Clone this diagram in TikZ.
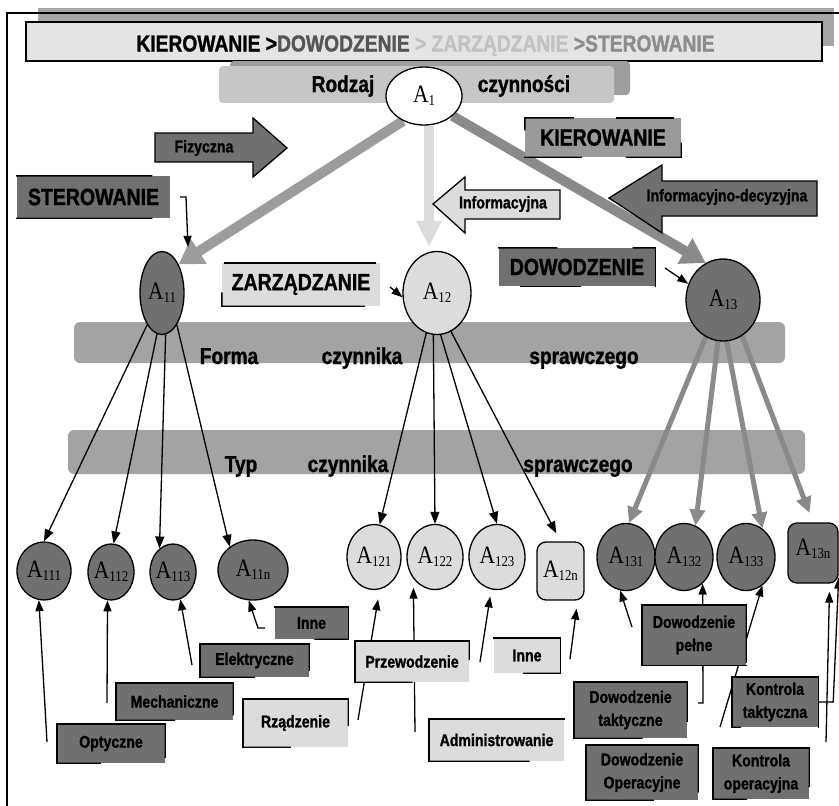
\documentclass[tikz,border=0pt]{standalone}
\usepackage{fontspec}
\setmainfont{Liberation Sans}
\newfontfamily\nsans[FakeStretch=0.83,FakeBold=1.2]{Liberation Sans}
\newfontfamily\tnr[FakeStretch=0.86]{Liberation Serif}
\usetikzlibrary{arrows.meta,calc,shapes.geometric}

\definecolor{dk}{HTML}{707070}
\definecolor{lt}{HTML}{DCDCDC}
\definecolor{bandc}{HTML}{A3A3A3}
\definecolor{kierc}{HTML}{9A9A9A}
\definecolor{titlec}{HTML}{E4E4E4}
\definecolor{titlesh}{HTML}{A6A6A6}
\definecolor{rodzc}{HTML}{C6C6C6}
\definecolor{rodzsh}{HTML}{9E9E9E}
\definecolor{armA}{HTML}{9C9C9C}
\definecolor{armC}{HTML}{8A8A8A}
\definecolor{tdow}{HTML}{555555}
\definecolor{tzar}{HTML}{C2C2C2}
\definecolor{tster}{HTML}{8C8C8C}

\pgfdeclarelayer{bands}
\pgfdeclarelayer{lines}
\pgfsetlayers{bands,lines,main}

% node label: A with a lowered index
\newcommand\Alab[1]{A\raisebox{-3pt}{\fontsize{15}{15}\selectfont #1}}
% part of a box edge, from fraction #4 to #5 between two anchors
\newcommand\bxseg[5]{\draw[frm] ($(#1.#2)!#4!(#1.#3)$) -- ($(#1.#2)!#5!(#1.#3)$);}
% open frame: top and left edges, part of bottom (#2) and right (#3)
\newcommand\bxframeL[3]{%
  \bxseg{#1}{north west}{north east}{0}{1}%
  \bxseg{#1}{north west}{south west}{0}{1}%
  \bxseg{#1}{south west}{south east}{0}{#2}%
  \bxseg{#1}{north east}{south east}{0}{#3}}
% open frame: top and right edges, part of bottom from the right (#2)
\newcommand\bxframeR[2]{%
  \bxseg{#1}{north west}{north east}{0}{1}%
  \bxseg{#1}{north east}{south east}{0}{1}%
  \bxseg{#1}{south east}{south west}{0}{#2}}

\begin{document}
\begin{tikzpicture}[x=1pt,y=-1pt,
  frm/.style={line width=1.4pt,line cap=rect},
  bigtxt/.style={font=\nsans\fontsize{23.5}{26}\selectfont\bfseries},
  bandtxt/.style={font=\nsans\fontsize{23}{26}\selectfont\bfseries,anchor=base,inner sep=0pt},
  smtxt/.style={font=\nsans\fontsize{17}{23}\selectfont\bfseries,align=center},
  lblbox/.style={rectangle,inner sep=0pt,smtxt},
  bigbox/.style={rectangle,inner sep=0pt,bigtxt},
  anode/.style={ellipse,draw,line width=1.3pt,inner sep=-6pt,font=\tnr\fontsize{25}{25}\selectfont},
  rnode/.style={rectangle,rounded corners=9pt,draw,line width=1.3pt,inner sep=-6pt,font=\tnr\fontsize{25}{25}\selectfont},
  kid/.style={line width=1.3pt,-{Triangle[length=12pt,width=9pt]}},
  lblarr/.style={line width=1.3pt,-{Triangle[length=11pt,width=8pt]}},
  grarr/.style={line width=5pt,draw=armC,-{Triangle[length=16pt,width=15pt]}},
  bigarr/.style={line width=10pt,-{Triangle[length=24pt,width=28pt]}},
  blockarr/.style={draw,line width=1.3pt,line join=miter}]
\useasboundingbox (0,0) rectangle (839,806);

\begin{pgfonlayer}{bands}
  % heading bar, its shadow and the page frame
  \fill[titlesh] (38,8) rectangle (834,46);
  \draw[line width=2pt] (7,806) -- (7,13) -- (839,13);
  \node[draw,line width=1.5pt,fill=titlec,minimum width=796pt,minimum height=39pt,inner sep=0pt] (ttlbox) at (424,41.5) {};
  \node[font=\nsans\fontsize{23.2}{26}\selectfont\bfseries,anchor=base,inner sep=0pt] (ttl) at (425.5,51.5)
    {KIEROWANIE >{\color{tdow}DOWODZENIE}{\color{tzar}\ >\ ZARZĄDZANIE\ }{\color{tster}>STEROWANIE}};
  % level bands
  \fill[rodzsh,rounded corners=4pt] (230,61) rectangle (630,95);
  \fill[rodzc,rounded corners=4pt] (219,66) rectangle (614,103);
  \node[bandtxt] (rodzT) at (343,92) {Rodzaj};
  \node[bandtxt] (czynT) at (524,92) {czynności};
  \fill[bandc,rounded corners=6pt] (74,322) rectangle (785,363);
  \node[bandtxt] (formaT) at (229,364) {Forma};
  \node[bandtxt] (formaC) at (362,364) {czynnika};
  \node[bandtxt] (formaS) at (584,364) {sprawczego};
  \fill[bandc,rounded corners=6pt] (68,430) rectangle (805,474);
  \node[bandtxt] (typT) at (241,472) {Typ};
  \node[bandtxt] (typC) at (348,472) {czynnika};
  \node[bandtxt] (typS) at (578,472) {sprawczego};
\end{pgfonlayer}

% activity nodes
\node[anode,fill=white,minimum width=76pt,minimum height=58pt] (A1) at (424,96) {\Alab{1}};
\node[anode,fill=dk,minimum width=44pt,minimum height=83pt] (A11) at (162,293) {\Alab{11}};
\node[anode,fill=lt,minimum width=68pt,minimum height=83pt] (A12) at (437,293) {\Alab{12}};
\node[anode,fill=dk,minimum width=74pt,minimum height=82pt] (A13) at (723,300) {\Alab{13}};

\node[anode,fill=dk,minimum width=54pt,minimum height=58pt] (A111) at (44,571) {\Alab{111}};
\node[anode,fill=dk,minimum width=46pt,minimum height=56pt] (A112) at (111,572) {\Alab{112}};
\node[anode,fill=dk,minimum width=46pt,minimum height=56pt] (A113) at (173,572) {\Alab{113}};
\node[anode,fill=dk,minimum width=70pt,minimum height=60pt] (A11n) at (253,570) {\Alab{11n}};

\node[anode,fill=lt,minimum width=54pt,minimum height=65pt] (A121) at (374,557) {\Alab{121}};
\node[anode,fill=lt,minimum width=56pt,minimum height=65pt] (A122) at (435,557) {\Alab{122}};
\node[anode,fill=lt,minimum width=56pt,minimum height=65pt] (A123) at (497,557) {\Alab{123}};
\node[rnode,fill=lt,minimum width=47pt,minimum height=58pt] (A12n) at (560.5,571) {\Alab{12n}};

\node[anode,fill=dk,minimum width=58pt,minimum height=67pt] (A131) at (626,557) {\Alab{131}};
\node[anode,fill=dk,minimum width=58pt,minimum height=67pt] (A132) at (684,557) {\Alab{132}};
\node[anode,fill=dk,minimum width=58pt,minimum height=67pt] (A133) at (746,557) {\Alab{133}};
\node[rnode,fill=dk,minimum width=50pt,minimum height=60pt] (A13n) at (813,553) {\raisebox{12pt}{\Alab{13n}}};

% free ends of the label connectors
\coordinate (sterA) at (180,197);
\coordinate (zarA) at (390,287);
\coordinate (dowA) at (665,268);
\coordinate (optA) at (47,742);
\coordinate (mechA) at (107,703);
\coordinate (elekA) at (192,665);
\coordinate (inneLA) at (265,628);
\coordinate (rzadA) at (358,720);
\coordinate (admA) at (415,732);
\coordinate (przA) at (480,662);
\coordinate (inneMA) at (570,659);
\coordinate (dpA) at (632,627);
\coordinate (dtA) at (698,703);
\coordinate (doA) at (720,727);
\coordinate (koA) at (826,742);

\begin{pgfonlayer}{lines}
  % kinds of activity
  \draw[bigarr,draw=armA] (A1.-130) -- (A11.60);
  \draw[line width=10pt,draw=lt,-{Triangle[length=26pt,width=24pt]},shorten >=4pt] ($(A1.south)+(5,0)$) -- ($(A1.south |- A12.north)+(5,0)$);
  \draw[bigarr,draw=armC] (A1.-35) -- (A13.115);
  % forms of the acting factor
  \draw[kid] (A11.-115) -- (A111.north);
  \draw[kid] (A11.-97) -- (A112.85);
  \draw[kid] (A11.-85) -- (A113.120);
  \draw[kid] (A11.-65) -- (A11n.135);
  \draw[kid] (A12.-105) -- (A121.80);
  \draw[kid] (A12.-95) -- (A122.north);
  \draw[kid] (A12.-85) -- (A123.north);
  \draw[kid,shorten >=9pt] (A12.-70) -- (A12n.north);
  \draw[grarr] (A13.-115) -- (A131.85);
  \draw[grarr] (A13.-97) -- (A132.70);
  \draw[grarr] (A13.-85) -- (A133.60);
  \draw[grarr,shorten >=10pt] (A13.-62) -- (A13n.north);
  % label connectors
  \draw[lblarr] (sterA) -- ++(6,0) -- ($(A11.north)+(26,-4)$);
  \draw[lblarr] (zarA) -- (A12.187);
  \draw[lblarr] (dowA) -- (A13.155);
  \draw[lblarr] (optA) -- (A111.-100);
  \draw[lblarr] (mechA) -- (A112.-97);
  \draw[lblarr] (elekA) -- (A113.-75);
  \draw[lblarr] (inneLA) -- ++(-7,0) -- (A11n.-98);
  \draw[lblarr,shorten >=10pt] (rzadA) -- (A121.-80);
  \draw[lblarr,shorten >=9pt] (admA) -- (A122.-135);
  \draw[lblarr,shorten >=7pt] (przA) -- (A123.-100);
  \draw[lblarr,shorten >=8pt] (inneMA) -- ($(A12n.south east)+(-7,0)$);
  \draw[lblarr] (dpA) -- (A131.-100);
  \draw[lblarr] (dtA) -- ++(5,0) -- (A132.-55);
  \draw[lblarr] (doA) -- (A133.-60);
  \draw[lblarr,shorten >=8pt] (koA) -- ($(A13n.south east)+(-9,0)$);
\end{pgfonlayer}

% block arrows naming the kinds of activity
\draw[blockarr,fill=dk] (155,133) -- (253,133) -- (253,118) -- (287,148) -- (253,177) -- (253,162) -- (155,162) -- cycle;
\node[smtxt] (fizT) at (204,148) {Fizyczna};
\draw[blockarr,fill=lt] (560,190) -- (465,190) -- (465,177) -- (433,204) -- (465,233) -- (465,219) -- (560,219) -- cycle;
\node[smtxt] (infT) at (503,204) {Informacyjna};
\draw[blockarr,fill=dk] (817,181) -- (662,181) -- (662,165) -- (609,198) -- (662,233) -- (662,216) -- (817,216) -- cycle;
\node[smtxt] (indT) at (727,197) {Informacyjno-decyzyjna};

% large labels
\node[bigbox,fill=kierc,minimum width=156pt,minimum height=39pt] (kierb) at (603,137.5) {KIEROWANIE};
\bxseg{kierb}{north west}{north east}{0}{0.31}
\bxseg{kierb}{north west}{north east}{0.59}{0.95}
\bxseg{kierb}{north west}{south west}{0}{0.3}
\bxseg{kierb}{south east}{north east}{0}{0.35}
\bxseg{kierb}{south west}{south east}{0}{0.36}
\bxseg{kierb}{south west}{south east}{0.65}{1}
\node[bigbox,fill=dk,minimum width=153pt,minimum height=42pt] (sterb) at (93.5,197) {STEROWANIE};
\bxseg{sterb}{north west}{north east}{0}{0.88}
\bxseg{sterb}{south west}{south east}{0}{0.88}
\node[bigbox,fill=lt,minimum width=158pt,minimum height=43pt] (zarb) at (301,284.5) {ZARZĄDZANIE};
\bxseg{zarb}{north west}{north east}{0.02}{0.97}
\bxseg{zarb}{south west}{north west}{0}{0.3}
\bxseg{zarb}{south west}{south east}{0}{0.9}
\node[bigbox,fill=dk,minimum width=156pt,minimum height=38pt] (dowb) at (577,267) {DOWODZENIE};
\bxseg{dowb}{north west}{north east}{0}{0.37}
\bxseg{dowb}{north west}{north east}{0.86}{1}
\bxseg{dowb}{north east}{south east}{0}{1}
\bxseg{dowb}{south west}{south east}{0.14}{0.52}

% small labels
\node[lblbox,fill=dk,minimum width=108pt,minimum height=39pt] (optb) at (111,743.5) {Optyczne};
\bxframeL{optb}{0.4}{0.85}
\node[lblbox,fill=dk,minimum width=117pt,minimum height=37pt] (mechb) at (174.5,701.5) {Mechaniczne};
\bxframeL{mechb}{0.5}{0.85}
\node[lblbox,fill=dk,minimum width=109pt,minimum height=33pt] (elekb) at (254.5,660.5) {Elektryczne};
\bxframeL{elekb}{0.5}{0.8}
\node[lblbox,fill=dk,minimum width=73pt,minimum height=32pt] (inneLb) at (311.5,623) {Inne};
\bxframeR{inneLb}{0.45}
\node[lblbox,fill=lt,minimum width=105pt,minimum height=48pt] (rzadb) at (295.5,723) {Rządzenie};
\bxframeL{rzadb}{0.45}{0.55}
\node[lblbox,fill=lt,minimum width=114pt,minimum height=41pt] (przb) at (412,661.5) {Przewodzenie};
\bxframeL{przb}{0.5}{0.45}
\node[lblbox,fill=lt,minimum width=66pt,minimum height=35pt] (inneMb) at (527,655.5) {Inne};
\bxframeR{inneMb}{0.55}
\node[lblbox,fill=lt,minimum width=135pt,minimum height=42pt] (admb) at (496.5,740) {Administrowanie};
\bxframeL{admb}{0.74}{0}
\node[lblbox,fill=dk,minimum width=104pt,minimum height=60pt] (dpb) at (694,635) {Dowodzenie\\pełne};
\bxframeL{dpb}{1}{0.95}
\node[lblbox,fill=dk,minimum width=113pt,minimum height=56pt] (dtb) at (630.5,710) {Dowodzenie\\taktyczne};
\bxframeL{dtb}{0.6}{0.7}
\node[lblbox,fill=dk,minimum width=112pt,minimum height=55pt] (dob) at (642,772.5) {Dowodzenie\\Operacyjne};
\bxframeL{dob}{0.6}{0.85}
\node[lblbox,fill=dk,minimum width=86pt,minimum height=50pt] (ktb) at (775,702) {Kontrola\\taktyczna};
\bxframeL{ktb}{0.1}{1}
\node[lblbox,fill=dk,minimum width=96pt,minimum height=51pt] (kob) at (761,773.5) {Kontrola\\operacyjna};
\bxframeL{kob}{0.35}{0.75}

\draw[lblarr] (ktb.east) -- ++(15,0) -- ($(A13n.south east)+(0,-6)$);
\end{tikzpicture}
\end{document}
